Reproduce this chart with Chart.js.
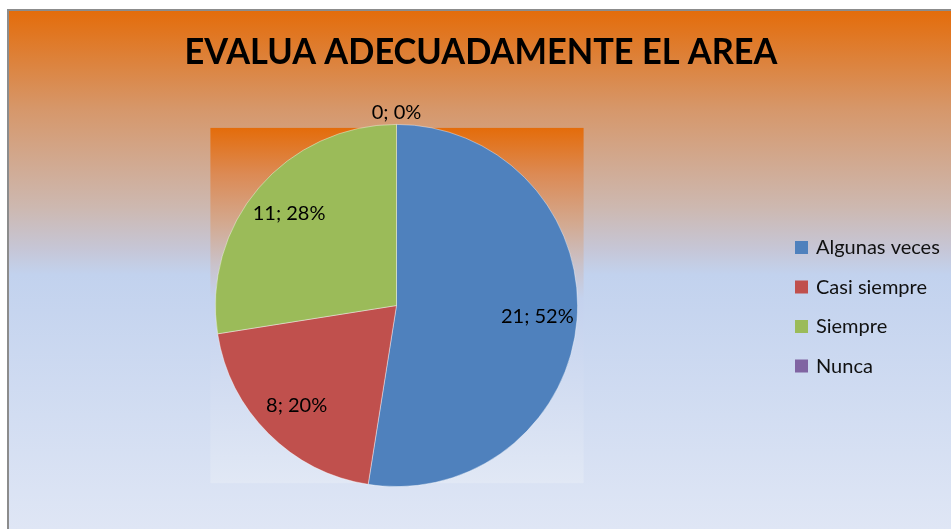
<!DOCTYPE html>
<html><head><meta charset="utf-8">
<script src="https://cdn.jsdelivr.net/npm/chart.js@4"></script>
<style>html,body{margin:0;padding:0;background:#fff;overflow:hidden}canvas{display:block}</style>
</head><body><canvas id="c" width="951" height="529"></canvas>
<script>
const titleText = 'EVALUA ADECUADAMENTE EL AREA';
const categories = ['Algunas veces', 'Casi siempre', 'Siempre', 'Nunca'];
const values = [21, 8, 11, 0];
const colors = ['#4f81bd', '#c0504d', '#9bbb59', '#8064a2'];

const FONT = 'Lato, "Open Sans", "Liberation Sans", sans-serif';

// percentages that add up to 100 (largest remainder), as the spreadsheet shows them
function percents(vals) {
  const total = vals.reduce((a, b) => a + b, 0);
  const raw = vals.map(v => v / total * 100);
  const out = raw.map(Math.floor);
  let left = 100 - out.reduce((a, b) => a + b, 0);
  const order = raw.map((r, i) => [r - Math.floor(r), i])
    .sort((a, b) => (b[0] - a[0]) || (b[1] - a[1]));
  for (let k = 0; k < order.length && left > 0; k++, left--) out[order[k][1]]++;
  return out;
}

const bgPlugin = {
  id: 'bg',
  beforeDraw(chart) {
    const ctx = chart.ctx, W = chart.width, H = chart.height;
    ctx.save();
    ctx.fillStyle = '#ffffff';
    ctx.fillRect(0, 0, W, H);
    const g = ctx.createLinearGradient(0, 10, 0, H);
    g.addColorStop(0, '#e46c0a');
    g.addColorStop(0.19, '#d6976a');
    g.addColorStop(0.38, '#cdb8b0');
    g.addColorStop(0.46, '#c6c6d6');
    g.addColorStop(0.51, '#c2d2ee');
    g.addColorStop(1, '#dfe6f5');
    ctx.fillStyle = g;
    ctx.fillRect(8, 10, W - 8, H - 10);
    ctx.fillStyle = '#8c8c8c';
    ctx.fillRect(7, 9, W - 7, 2);
    ctx.fillRect(7, 9, 2, H - 9);
    // plot area rectangle around the pie
    const arc = chart.getDatasetMeta(0).data[0];
    if (arc) {
      const r = arc.outerRadius, cx = arc.x, cy = arc.y;
      const x0 = cx - r - 5, x1 = cx + r + 6, y0 = cy - r + 3.5, y1 = cy + r - 3.5;
      const g2 = ctx.createLinearGradient(0, y0, 0, y1);
      g2.addColorStop(0, '#e46c0a');
      g2.addColorStop(0.13, '#dc8a54');
      g2.addColorStop(0.27, '#d3a990');
      g2.addColorStop(0.39, '#c9c3cc');
      g2.addColorStop(0.48, '#c4d2ee');
      g2.addColorStop(1, '#e1e8f5');
      ctx.fillStyle = g2;
      ctx.fillRect(x0, y0, x1 - x0, y1 - y0);
    }
    // title
    ctx.fillStyle = '#000000';
    ctx.font = 'bold 36px ' + FONT;
    ctx.textAlign = 'center';
    ctx.textBaseline = 'middle';
    const tw = ctx.measureText(titleText).width;
    const sx = Math.min(1, 593 / tw);
    ctx.translate(481, 52);
    ctx.scale(sx, 1);
    ctx.fillText(titleText, 0, 0);
    ctx.restore();
  },
  afterDatasetsDraw(chart) {
    const ctx = chart.ctx;
    const meta = chart.getDatasetMeta(0);
    const pcts = percents(values);
    ctx.save();
    ctx.fillStyle = '#000000';
    ctx.font = '20px ' + FONT;
    ctx.textAlign = 'center';
    ctx.textBaseline = 'middle';
    meta.data.forEach((arc, i) => {
      const v = values[i];
      const mid = (arc.startAngle + arc.endAngle) / 2;
      const d = v === 0 ? arc.outerRadius + 12 : arc.outerRadius * 0.78;
      const x = arc.x + Math.cos(mid) * d;
      const y = arc.y + Math.sin(mid) * d;
      ctx.fillText(v + '; ' + pcts[i] + '%', x, y);
    });
    // legend
    ctx.font = '20px ' + FONT;
    ctx.textAlign = 'left';
    categories.forEach((c, i) => {
      const y = 248 + i * 39.5;
      ctx.fillStyle = colors[i];
      ctx.fillRect(795, y - 7, 13, 13);
      ctx.fillStyle = '#111111';
      ctx.fillText(c, 816, y);
    });
    ctx.restore();
  }
};

new Chart(document.getElementById('c'), {
  type: 'pie',
  data: {
    labels: categories,
    datasets: [{
      data: values,
      backgroundColor: colors,
      borderColor: 'rgba(255,255,255,0.5)',
      borderWidth: 0.8
    }]
  },
  options: {
    responsive: false,
    devicePixelRatio: 1,
    animation: false,
    layout: { padding: { left: 215, right: 373, top: 124, bottom: 42 } },
    plugins: {
      legend: { display: false },
      title: { display: false },
      tooltip: { enabled: false }
    }
  },
  plugins: [bgPlugin]
});
</script>
</body></html>
